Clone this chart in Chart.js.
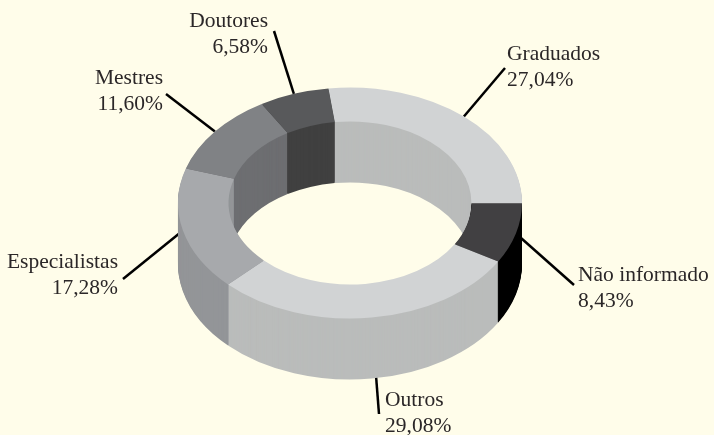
<!DOCTYPE html>
<html lang="pt">
<head>
<meta charset="utf-8">
<title>Titulação</title>
<style>
html,body{margin:0;padding:0;background:#fffdea;}
canvas{display:block;}
</style>
<script src="https://cdn.jsdelivr.net/npm/chart.js@4"></script>
</head>
<body>
<canvas id="c" width="714" height="435"></canvas>
<script>
const categories = ['Graduados','Não informado','Outros','Especialistas','Mestres','Doutores'];
const shares = [27.04, 8.43, 29.08, 17.28, 11.60, 6.58];
const topColors = ['#d1d3d4','#414042','#d1d3d4','#a7a9ac','#808285','#58595b'];
const sideColors = ['#babcbb','#000000','#babcbb','#939598','#6d6e71','#404040'];

const tilt = 0.6715, wallHeight = 61;
const labelEnds = [[505,68],[574,285],[379,414],[123,279],[166,94],[274,31]];
const labelSpots = [[507,60,'left'],[578,281,'left'],[385,406,'left'],[118,268,'right'],[163,84,'right'],[268,27,'right']];

const fake3d = {
  id: 'fake3d',
  beforeDatasetsDraw(chart) {
    const ctx = chart.ctx;
    const arcs = chart.getDatasetMeta(0).data;
    // leader lines, running from the middle of each slice's outer edge
    ctx.save();
    ctx.strokeStyle = '#000';
    ctx.lineWidth = 2.5;
    arcs.forEach((a, i) => {
      const mid = (a.startAngle + a.endAngle) / 2;
      ctx.beginPath();
      ctx.moveTo(a.x + a.outerRadius * Math.cos(mid), a.y + a.outerRadius * tilt * Math.sin(mid));
      ctx.lineTo(labelEnds[i][0], labelEnds[i][1]);
      ctx.stroke();
    });
    ctx.restore();
    // walls: the ring stacked from the floor upward
    const cx = arcs[0].x, cy = arcs[0].y;
    for (let dy = wallHeight; dy >= 1; dy--) {
      ctx.save();
      ctx.translate(cx, cy + dy);
      ctx.scale(1, tilt);
      ctx.translate(-cx, -cy);
      arcs.forEach((a, i) => {
        const wall = Object.create(a);
        wall.options = {backgroundColor: sideColors[i], borderColor: sideColors[i], borderWidth: 0,
          borderAlign: 'center', borderRadius: 0, spacing: 0, offset: 0, circular: true};
        Chart.elements.ArcElement.prototype.draw.call(wall, ctx);
      });
      ctx.restore();
    }
    // the library's own top face is drawn flattened
    ctx.save();
    ctx.translate(cx, cy);
    ctx.scale(1, tilt);
    ctx.translate(-cx, -cy);
  },
  afterDatasetsDraw(chart) {
    const ctx = chart.ctx;
    ctx.restore();
    ctx.save();
    ctx.fillStyle = '#2b2728';
    ctx.font = '21.5px "Liberation Serif"';
    ctx.textBaseline = 'alphabetic';
    categories.forEach((name, i) => {
      const [x, y, align] = labelSpots[i];
      ctx.textAlign = align;
      ctx.fillText(name, x, y);
      ctx.fillText(shares[i].toFixed(2).replace('.', ',') + '%', x, y + 26);
    });
    ctx.restore();
  }
};

new Chart(document.getElementById('c'), {
  type: 'doughnut',
  data: {
    labels: categories,
    datasets: [{data: shares, backgroundColor: topColors, borderWidth: 0, clip: false}]
  },
  options: {
    responsive: false,
    animation: false,
    events: [],
    rotation: -7.2,
    cutout: '70.6%',
    layout: {padding: {left: 178, right: 192, top: 31, bottom: 60}},
    plugins: {legend: {display: false}, tooltip: {enabled: false}, title: {display: false}}
  },
  plugins: [fake3d]
});
</script>
</body>
</html>
